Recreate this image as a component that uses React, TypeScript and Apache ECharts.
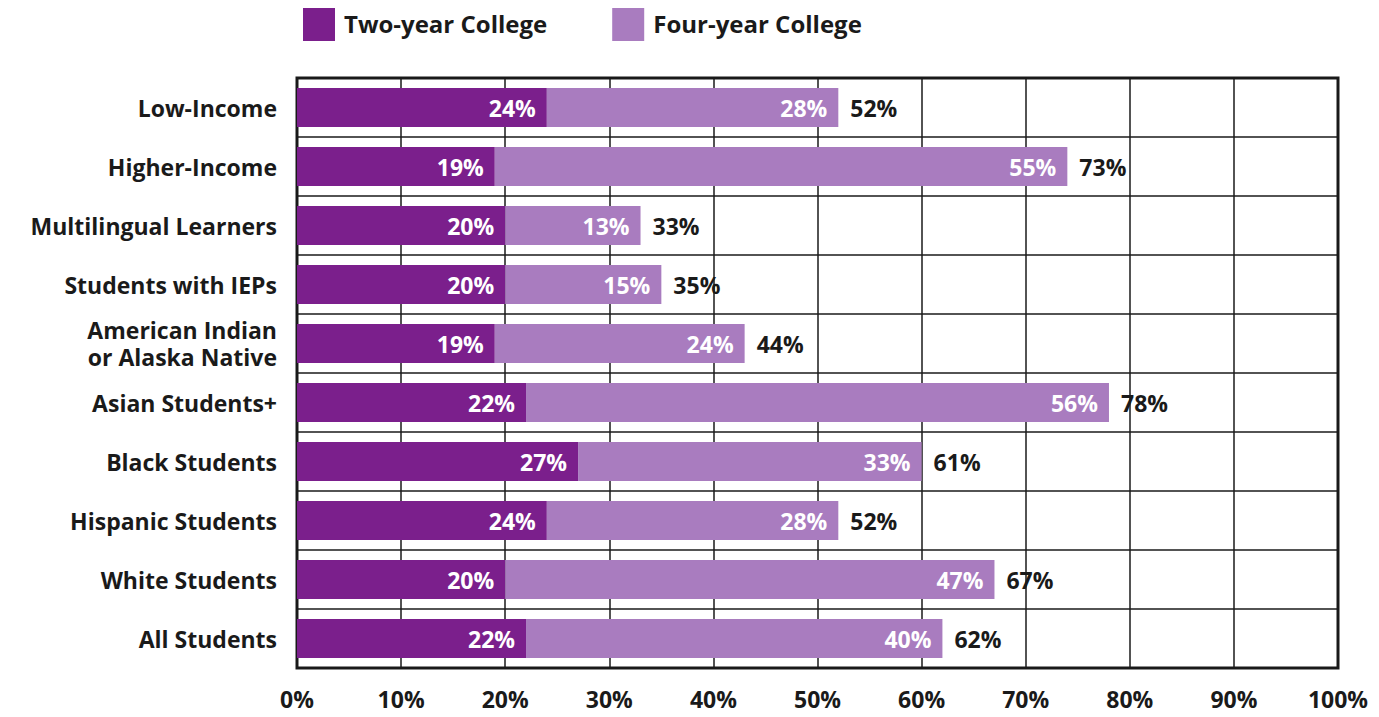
import React, { useEffect, useRef } from "react";
import * as echarts from "echarts";

const categories = [
  "Low-Income",
  "Higher-Income",
  "Multilingual Learners",
  "Students with IEPs",
  "American Indian\nor Alaska Native",
  "Asian Students+",
  "Black Students",
  "Hispanic Students",
  "White Students",
  "All Students",
];
const twoYear = [24, 19, 20, 20, 19, 22, 27, 24, 20, 22];
const fourYear = [28, 55, 13, 15, 24, 56, 33, 28, 47, 40];
const totals = [52, 73, 33, 35, 44, 78, 61, 52, 67, 62];
const xTicks = [0, 10, 20, 30, 40, 50, 60, 70, 80, 90, 100];

const FONT = "'Open Sans', Lato, sans-serif";

export default function App() {
  const ref = useRef<HTMLDivElement>(null);
  useEffect(() => {
    if (!ref.current) return;
    const chart = echarts.init(ref.current, undefined, { renderer: "svg" });
    chart.setOption({
      animation: false,
      textStyle: { fontFamily: FONT },
      legend: {
        top: 0,
        left: 298,
        itemWidth: 32,
        itemHeight: 36,
        itemGap: 65,
        icon: "rect",
        data: ["Two-year College", "Four-year College"],
        textStyle: { fontSize: 24, fontWeight: "bold", color: "#1a1a1a", fontFamily: FONT, padding: [0, 0, 0, 4] },
      },
      grid: {
        left: 297,
        right: 41,
        top: 78,
        bottom: 49,
        show: true,
        borderColor: "#1a1a1a",
        borderWidth: 3,
        backgroundColor: "transparent",
      },
      xAxis: {
        type: "value",
        min: 0,
        max: 100,
        interval: 10,
        axisLine: { show: false },
        axisTick: { show: false },
        splitLine: { show: true, lineStyle: { color: "#1a1a1a", width: 1.5 } },
        axisLabel: {
          formatter: (v: number) => (xTicks.includes(v) ? v + "%" : ""),
          fontSize: 23,
          fontWeight: "bold",
          color: "#1a1a1a",
          margin: 19,
          fontFamily: FONT,
        },
      },
      yAxis: {
        type: "category",
        inverse: true,
        data: categories,
        axisLine: { show: false },
        axisTick: { show: false },
        splitLine: { show: true, lineStyle: { color: "#1a1a1a", width: 1.5 } },
        axisLabel: {
          fontSize: 23,
          fontWeight: "bold",
          color: "#1a1a1a",
          margin: 20,
          lineHeight: 27,
          fontFamily: FONT,
        },
      },
      series: [
        {
          name: "Two-year College",
          type: "bar",
          stack: "total",
          barWidth: 39,
          data: twoYear,
          itemStyle: { color: "#7b1f8c" },
          label: {
            show: true,
            position: "insideRight",
            formatter: "{c}%",
            color: "#ffffff",
            fontSize: 23,
            fontWeight: "bold",
            fontFamily: FONT,
            distance: 11,
          },
          z: 3,
        },
        {
          name: "Four-year College",
          type: "bar",
          stack: "total",
          barWidth: 39,
          data: fourYear,
          itemStyle: { color: "#a97cbf" },
          label: {
            show: true,
            position: "insideRight",
            formatter: "{c}%",
            color: "#ffffff",
            fontSize: 23,
            fontWeight: "bold",
            fontFamily: FONT,
            distance: 11,
          },
          z: 3,
        },
        {
          name: "Total",
          type: "bar",
          stack: "total",
          barWidth: 39,
          data: totals.map(() => 0),
          itemStyle: { color: "transparent" },
          label: {
            show: true,
            position: "right",
            formatter: (p: any) => totals[p.dataIndex] + "%",
            color: "#1a1a1a",
            fontSize: 23,
            fontWeight: "bold",
            fontFamily: FONT,
            distance: 12,
          },
          z: 3,
        },
      ],
    });
    return () => chart.dispose();
  }, []);
  return <div ref={ref} style={{ width: 1379, height: 717, margin: -8 }} />;
}
